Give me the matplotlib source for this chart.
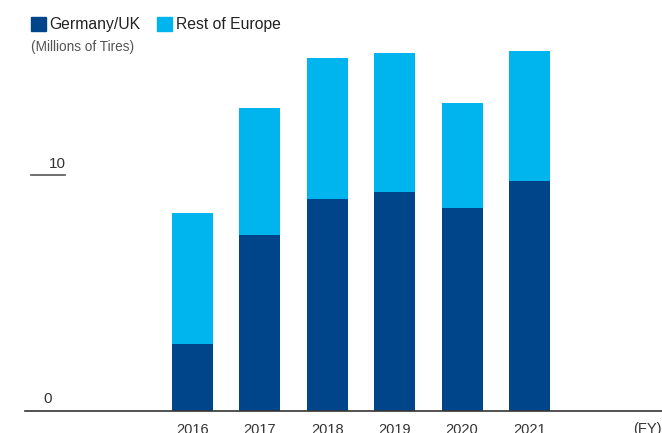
import matplotlib.pyplot as plt
import matplotlib.transforms as mtransforms
import numpy as np

# dados (milhoes de pneus)
anos = ["2016", "2017", "2018", "2019", "2020", "2021"]
germany_uk = [2.83, 7.44, 8.96, 9.26, 8.58, 9.73]
resto_europa = [5.54, 5.37, 5.97, 5.88, 4.44, 5.49]

cor_escura = "#00458A"
cor_clara = "#00B4EE"

plt.rcParams['font.family'] = ['Liberation Sans', 'DejaVu Sans']

fig = plt.figure(figsize=(6.62, 4.33), dpi=100)
ax = fig.add_axes([25/662, 1 - 411/433, 1 - 25/662, 411/433])

x = np.arange(len(anos))
ax.bar(x, germany_uk, width=0.61, color=cor_escura)
ax.bar(x, resto_europa, width=0.61, bottom=germany_uk, color=cor_clara)

ax.set_xlim(-2.485, 6.966)
ax.set_ylim(0, 17.38)

for s in ["top", "right", "left"]:
    ax.spines[s].set_visible(False)
ax.spines["bottom"].set_color("#333333")
ax.spines["bottom"].set_linewidth(1.2)

ax.set_yticks([])
ax.set_xticks(x)
ax.set_xticklabels(anos, fontsize=10.5, color="#333333")
ax.tick_params(axis="x", length=0, pad=9)

# linha curta e rotulos do eixo y
ax.axhline(10, xmin=0.0094, xmax=0.063, color="#555555", lw=1.2)
trans = mtransforms.blended_transform_factory(ax.transAxes, ax.transData)
ax.text(0.064, 10.15, "10", transform=trans, ha="right", va="bottom",
        fontsize=11, color="#333333")
ax.text(0.036, 0.5, "0", transform=trans, ha="center", va="center",
        fontsize=11, color="#333333")

# (FY)
fig.text(1.0, 1 - 429/433, "(FY)", ha="right", va="center",
         fontsize=10.5, color="#333333")

# legenda manual
fig.patches.append(plt.Rectangle((31/662, 1 - 31/433), 15/662, 14/433,
                                 transform=fig.transFigure, color=cor_escura))
fig.text(49/662, 1 - 24/433, "Germany/UK", ha="left", va="center",
         fontsize=11.3, color="#222222")
fig.patches.append(plt.Rectangle((157/662, 1 - 31/433), 15/662, 14/433,
                                 transform=fig.transFigure, color=cor_clara))
fig.text(176/662, 1 - 24/433, "Rest of Europe", ha="left", va="center",
         fontsize=11.3, color="#222222")
fig.text(31/662, 1 - 47/433, "(Millions of Tires)", ha="left", va="center",
         fontsize=9.8, color="#555555")

plt.savefig("out.png", dpi=100)
